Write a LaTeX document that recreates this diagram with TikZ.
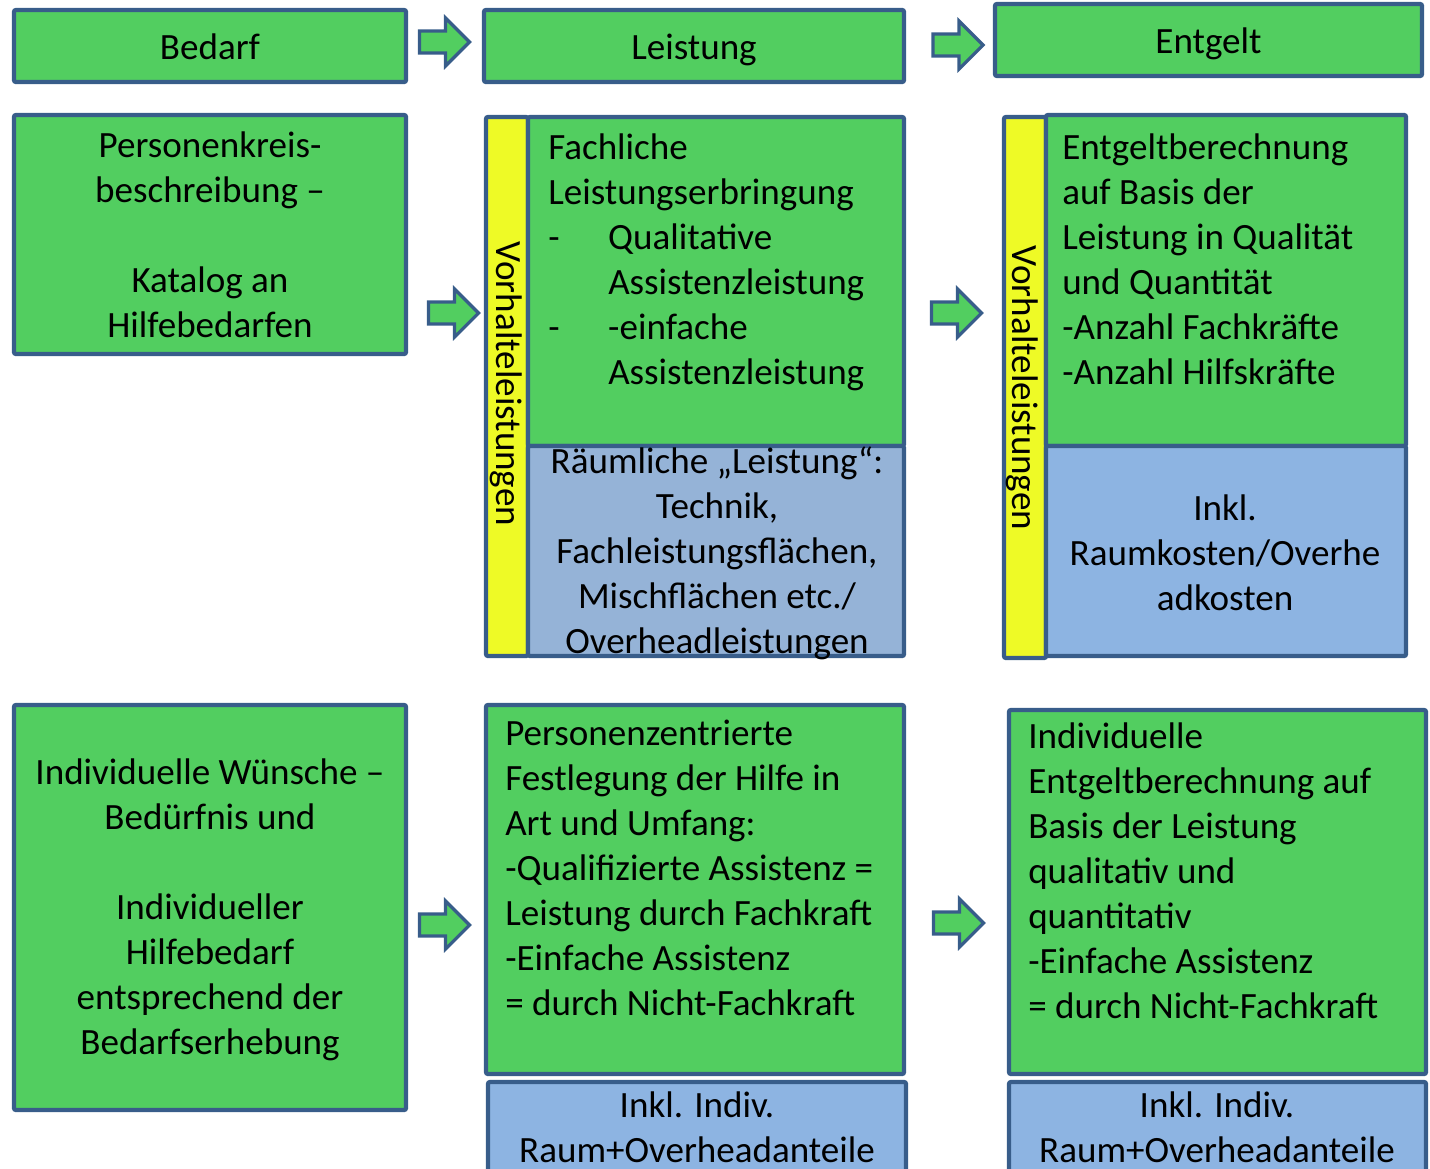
\documentclass[tikz,border=0pt]{standalone}
\usepackage{fontspec}
\setmainfont{Carlito}
\usepackage{tikz}
\usetikzlibrary{positioning}

\definecolor{boxgreen}{RGB}{82,206,96}
\definecolor{boxline}{RGB}{56,93,138}
\definecolor{baryellow}{RGB}{238,250,38}
\definecolor{roomblue}{RGB}{149,179,215}
\definecolor{inklblue}{RGB}{141,180,226}

\begin{document}
\begin{tikzpicture}[x=0.75pt, y=-0.75pt]
		\tikzstyle{Box}		= [draw=boxline, line width=3.2pt, rounded corners=1.5pt, inner sep=0pt, anchor=center]
		\tikzstyle{Green}	= [Box, fill=boxgreen]
		\tikzstyle{Yellow}	= [Box, fill=baryellow]
		\tikzstyle{Room}	= [Box, fill=roomblue]
		\tikzstyle{Inkl}	= [Box, fill=inklblue]
		\tikzstyle{Txt}		= [inner sep=0pt, font=\fontsize{27.8}{33.75}\selectfont]
		\tikzstyle{Head}	= [Txt, text height=19.5pt, text depth=0pt]
		\tikzstyle{Arrow}	= [draw=boxline, fill=boxgreen, line width=2.4pt]

		\useasboundingbox (0,0) rectangle (1430,1168);

		% top row
		\node (bedarf) at (210, 46) [Green, minimum width=294pt, minimum height=54pt]{};
		\node (leistung) at (694, 46) [Green, minimum width=315pt, minimum height=54pt]{};
		\node (entgelt) at (1208.5, 40) [Green, minimum width=320.25pt, minimum height=54pt]{};
		\node (tbedarf) at (bedarf.center) [Head]{Bedarf};
		\node (tleistung) at (leistung.center) [Head]{Leistung};
		\node (tentgelt) at (entgelt.center) [Head]{Entgelt};

		% second row
		\node (kreis) at (210, 234.5) [Green, minimum width=294pt, minimum height=179.25pt]{};
		\node (vorhA) at (507, 386.5) [Yellow, minimum width=31.5pt, minimum height=404.25pt]{};
		\node (fachA) at (716, 281.5) [Green, minimum width=282pt, minimum height=246.75pt]{};
		\node (raumA) at (716, 551) [Room, minimum width=282pt, minimum height=157.5pt]{};
		\node (vorhB) at (1025, 387.5) [Yellow, minimum width=31.5pt, minimum height=405.75pt]{};
		\node (entgA) at (1226, 280.5) [Green, minimum width=270pt, minimum height=248.25pt]{};
		\node (raumB) at (1226, 551) [Inkl, minimum width=270pt, minimum height=157.5pt]{};

		\node (tkreis) at (kreis.center) [Txt, align=center]{Personenkreis-\\beschreibung –\\~\\Katalog an\\Hilfebedarfen};
		\node (tvorhA) at (506, 384) [Txt, rotate=-90]{Vorhalteleistungen};
		\node (tvorhB) at (1022, 388) [Txt, rotate=-90]{Vorhalteleistungen};
		\node (tfachA) at (548, 133) [Txt, anchor=north west, align=left]{Fachliche\\Leistungserbringung\\\makebox[45pt][l]{-}Qualitative\\\hspace*{45pt}Assistenzleistung\\\makebox[45pt][l]{-}-einfache\\\hspace*{45pt}Assistenzleistung};
		\node (traumA) at (717, 553) [Txt, align=center]{Räumliche „Leistung“:\\Technik,\\Fachleistungsflächen,\\Mischflächen etc./\\Overheadleistungen};
		\node (tentgA) at (1062, 133) [Txt, anchor=north west, align=left]{Entgeltberechnung\\auf Basis der\\Leistung in Qualität\\und Quantität\\-Anzahl Fachkräfte\\-Anzahl Hilfskräfte};
		\node (traumB) at (1225, 553) [Txt, align=center]{Inkl.\\Raumkosten/Overhe\\adkosten};

		% third row
		\node (wunsch) at (210, 907.5) [Green, minimum width=294pt, minimum height=303.75pt]{};
		\node (person) at (695, 889.5) [Green, minimum width=313.5pt, minimum height=276.75pt]{};
		\node (inklA) at (697, 1142) [Inkl, minimum width=313.5pt, minimum height=90pt]{};
		\node (indiv) at (1217.5, 892) [Green, minimum width=312.75pt, minimum height=273pt]{};
		\node (inklB) at (1217.5, 1142) [Inkl, minimum width=312.75pt, minimum height=90pt]{};

		\node (twunsch) at (210, 910) [Txt, align=center]{Individuelle Wünsche –\\Bedürfnis und\\~\\Individueller\\Hilfebedarf\\entsprechend der\\Bedarfserhebung};
		\node (tperson) at (505, 720) [Txt, anchor=north west, align=left]{Personenzentrierte\\Festlegung der Hilfe in\\Art und Umfang:\\-Qualifizierte Assistenz =\\Leistung durch Fachkraft\\-Einfache Assistenz\\= durch Nicht-Fachkraft};
		\node (tindiv) at (1028, 722) [Txt, anchor=north west, align=left]{Individuelle\\Entgeltberechnung auf\\Basis der Leistung\\qualitativ und\\quantitativ\\-Einfache Assistenz\\= durch Nicht-Fachkraft};
		\node (tinklA) at (697, 1127) [Txt, align=center]{Inkl. Indiv.\\Raum+Overheadanteile};
		\node (tinklB) at (1217, 1127) [Txt, align=center]{Inkl. Indiv.\\Raum+Overheadanteile};

		% block arrows
		\foreach \x/\y in {444.5/42, 958/45, 453.5/313, 956.5/313, 444.5/925, 958.5/923}
			\draw [Arrow, shift={(\x,\y)}] (-25,-11) -- (1,-11) -- (1,-24) -- (25,0) -- (1,24) -- (1,11) -- (-25,11) -- cycle;
	\end{tikzpicture}
\end{document}
